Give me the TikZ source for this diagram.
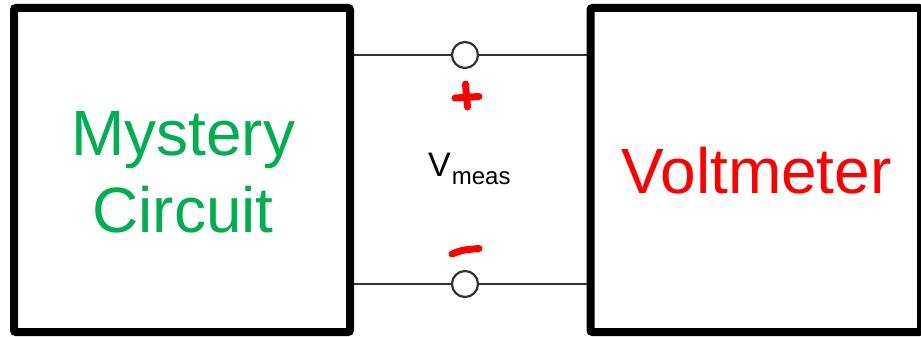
\documentclass[tikz,border=0pt]{standalone}
\usepackage{fontspec}
\setmainfont{Liberation Sans}
\definecolor{mcgreen}{RGB}{0,176,80}
\definecolor{vmred}{RGB}{255,0,0}
\begin{document}
\begin{tikzpicture}[x=1pt,y=1pt,
  block/.style={draw=black, line width=8pt, rounded corners=2pt, fill=white, inner sep=0pt},
  wire/.style={draw=black!80, line width=2.5pt},
  terminal/.style={circle, draw=black!80, line width=2.2pt, fill=white, minimum size=26pt, inner sep=0pt},
  polarity/.style={draw=vmred, line width=7pt, line cap=round},
  bigtext/.style={font=\fontsize{64}{77}\selectfont, anchor=base, inner sep=0pt}
]
\useasboundingbox (0,0) rectangle (921,-337);

% the two blocks
\node[block, minimum width=336pt, minimum height=324pt] (mc) at (182,-170) {};
\node[block, minimum width=330.5pt, minimum height=324pt] (vm) at (755.75,-170) {};

% block labels
\node[bigtext, text=mcgreen] (mcl1) at (183,-155) {Mystery};
\node[bigtext, text=mcgreen] (mcl2) at (183,-232) {Circuit};
\node[bigtext, text=vmred] (vml) at (756.5,-193) {Voltmeter};

% terminals
\node[terminal] (tp) at (465,-55) {};
\node[terminal] (tn) at (465,-284) {};

% wires between the blocks, through the terminals
\draw[wire] (tp.west -| mc.east) -- (tp.west);
\draw[wire] (tp.east) -- (tp.east -| vm.west);
\draw[wire] (tn.west -| mc.east) -- (tn.west);
\draw[wire] (tn.east) -- (tn.east -| vm.west);

% measured voltage
\node[anchor=base west, inner sep=0pt] (vlab) at (428,-176)
  {\fontsize{34}{40}\selectfont V\kern1pt\raisebox{-8pt}{\fontsize{24}{28}\selectfont meas}};

% hand-drawn polarity marks
\coordinate (ph1) at (455,-98);
\coordinate (ph2) at (479,-96.5);
\coordinate (pv1) at (465.5,-84);
\coordinate (pv2) at (467.5,-107);
\draw[polarity] (ph1) -- (ph2);
\draw[polarity] (pv1) -- (pv2);
\coordinate (m1) at (452,-254);
\coordinate (m2) at (479,-248.5);
\draw[polarity] (m1) .. controls (462,-250) .. (m2);
\end{tikzpicture}
\end{document}
